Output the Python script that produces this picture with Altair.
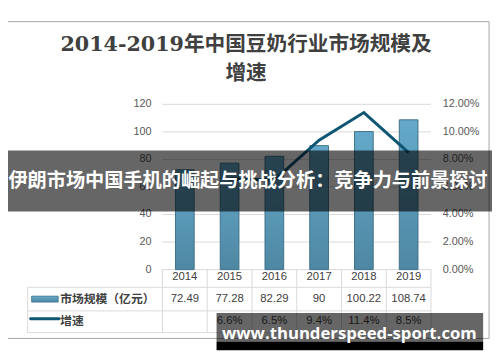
import altair as alt
import pandas as pd

# ---------------- data ----------------
years = ["2014", "2015", "2016", "2017", "2018", "2019"]
market = [72.49, 77.28, 82.29, 90, 100.22, 108.74]
market_labels = ["72.49", "77.28", "82.29", "90", "100.22", "108.74"]
growth = [None, 0.066, 0.065, 0.094, 0.114, 0.085]
growth_labels = ["", "6.6%", "6.5%", "9.4%", "11.4%", "8.5%"]
left_ticks = [0, 20, 40, 60, 80, 100, 120]
right_ticks = [0.0, 0.02, 0.04, 0.06, 0.08, 0.10, 0.12]
right_tick_labels = ["0.00%", "2.00%", "4.00%", "6.00%", "8.00%", "10.00%", "12.00%"]

title_1 = "2014-2019年中国豆奶行业市场规模及"
title_2 = "增速"
row1_name = "市场规模（亿元）"
row2_name = "增速"
overlay_text = "伊朗市场中国手机的崛起与挑战分析：竞争力与前景探讨"
watermark = "www.thunderspeed-sport.com"

df = pd.DataFrame({"year": years, "market": market, "mlabel": market_labels,
                   "growth": growth, "glabel": growth_labels})
df_line = df.dropna(subset=["growth"])
df_lt = pd.DataFrame({"tick": left_ticks, "label": [str(t) for t in left_ticks]})
df_rt = pd.DataFrame({"tick": right_ticks, "label": right_tick_labels})
one = alt.Data(values=[{"a": 1}])

# ---------------- layout / style ----------------
W, H = 492, 354
X_RANGE = [157, 430]
Y_RANGE = [263, 95]
CJK = "Noto Sans CJK SC"
NUM = "Liberation Sans"
TITLE_FONT = f"DejaVu Serif, {CJK}"
BAR_STROKE = "#3f7189"
LINE_COLOR = "#0e5673"
GRID = "#d9d9d9"
bar_grad = alt.LinearGradient(
    gradient="linear", x1=0, x2=0, y1=0, y2=1,
    stops=[alt.GradientStop(color="#64a9ca", offset=0),
           alt.GradientStop(color="#4e87a2", offset=1)])

X = alt.X("year:O", scale=alt.Scale(type="point", domain=years, range=X_RANGE, padding=0.5), axis=None)
YL = alt.Y("market:Q", scale=alt.Scale(domain=[0, 120], range=Y_RANGE), axis=None)
YR = alt.Y("growth:Q", scale=alt.Scale(domain=[0, 0.12], range=Y_RANGE), axis=None)

layers = []

# outer frame
layers.append(alt.Chart(one).mark_rect(fill=None, stroke="#a6a6a6", strokeWidth=1).encode(
    x=alt.value(-5), x2=alt.value(489), y=alt.value(11), y2=alt.value(333)))

# title
layers.append(alt.Chart(one).mark_text(text=title_1, font=TITLE_FONT, fontSize=21,
                                        fontWeight="bold", color="#404040", baseline="middle",
                                        align="center").encode(x=alt.value(242), y=alt.value(35)))
layers.append(alt.Chart(one).mark_text(text=title_2, font=TITLE_FONT, fontSize=21,
                                        fontWeight="bold", color="#404040", baseline="middle",
                                        align="center").encode(x=alt.value(242), y=alt.value(64)))

# gridlines
layers.append(alt.Chart(df_lt).mark_rule(color=GRID, strokeWidth=1).encode(
    x=alt.value(X_RANGE[0]), x2=alt.value(X_RANGE[1]),
    y=alt.Y("tick:Q", scale=alt.Scale(domain=[0, 120], range=Y_RANGE), axis=None)))

# axis labels
layers.append(alt.Chart(df_lt).mark_text(font=NUM, fontSize=11, color="#595959", align="right",
                                         baseline="middle").encode(
    x=alt.value(146),
    y=alt.Y("tick:Q", scale=alt.Scale(domain=[0, 120], range=Y_RANGE), axis=None),
    text="label:N"))
layers.append(alt.Chart(df_rt).mark_text(font=NUM, fontSize=11, color="#595959", align="left",
                                         baseline="middle").encode(
    x=alt.value(442),
    y=alt.Y("tick:Q", scale=alt.Scale(domain=[0, 0.12], range=Y_RANGE), axis=None),
    text="label:N"))

# bars
layers.append(alt.Chart(df).mark_bar(size=19, color=bar_grad, stroke=BAR_STROKE, strokeWidth=1).encode(
    x=X, y=YL))

# line
layers.append(alt.Chart(df_line).mark_line(color=LINE_COLOR, strokeWidth=3).encode(x=X, y=YR))

# table lines
for (x1, x2, y) in [(20, 430, 281), (20, 430, 305), (20, 430, 327)]:
    layers.append(alt.Chart(one).mark_rule(color=GRID, strokeWidth=1).encode(
        x=alt.value(x1), x2=alt.value(x2), y=alt.value(y)))
layers.append(alt.Chart(one).mark_rule(color=GRID, strokeWidth=1).encode(
    x=alt.value(20), y=alt.value(281), y2=alt.value(327)))
layers.append(alt.Chart(df).mark_rule(color=GRID, strokeWidth=1, xOffset=-22.75).encode(
    x=X, y=alt.value(263), y2=alt.value(327)))
layers.append(alt.Chart(one).mark_rule(color=GRID, strokeWidth=1).encode(
    x=alt.value(430), y=alt.value(263), y2=alt.value(327)))

# table text
layers.append(alt.Chart(df).mark_text(font=NUM, fontSize=11.5, color="#404040", baseline="middle").encode(
    x=X, y=alt.value(271), text="year:N"))
layers.append(alt.Chart(df).mark_text(font=NUM, fontSize=11.5, color="#404040", baseline="middle").encode(
    x=X, y=alt.value(293), text="mlabel:N"))
layers.append(alt.Chart(df).mark_text(font=NUM, fontSize=11.5, color="#404040", baseline="middle").encode(
    x=X, y=alt.value(315), text="glabel:N"))

# legend symbols + row names
layers.append(alt.Chart(one).mark_rect(color=bar_grad, stroke=BAR_STROKE, strokeWidth=0.8).encode(
    x=alt.value(24), x2=alt.value(51), y=alt.value(290), y2=alt.value(296)))
layers.append(alt.Chart(one).mark_rule(color=LINE_COLOR, strokeWidth=3, strokeCap="round").encode(
    x=alt.value(23), x2=alt.value(52), y=alt.value(313)))
layers.append(alt.Chart(one).mark_text(text=row1_name, font=CJK, fontSize=12, fontWeight="bold",
                                        color="#404040", align="left", baseline="middle").encode(
    x=alt.value(53), y=alt.value(293)))
layers.append(alt.Chart(one).mark_text(text=row2_name, font=CJK, fontSize=12, fontWeight="bold",
                                        color="#404040", align="left", baseline="middle").encode(
    x=alt.value(53), y=alt.value(315)))

# overlay band
layers.append(alt.Chart(one).mark_rect(color="#000000", opacity=0.6).encode(
    x=alt.value(0), x2=alt.value(W), y=alt.value(142), y2=alt.value(204)))
layers.append(alt.Chart(one).mark_text(text=overlay_text, font=CJK, fontSize=19.5, fontWeight="bold",
                                        color="#ffffff", align="center", baseline="middle").encode(
    x=alt.value(244), y=alt.value(173)))

# watermark
layers.append(alt.Chart(one).mark_rect(color="#000000", opacity=0.6).encode(
    x=alt.value(212), x2=alt.value(483), y=alt.value(307), y2=alt.value(336)))
layers.append(alt.Chart(one).mark_rect(color="#000000").encode(
    x=alt.value(212), x2=alt.value(483), y=alt.value(336), y2=alt.value(345)))
layers.append(alt.Chart(one).mark_text(text=watermark, font="Open Sans", fontSize=17, fontWeight="bold",
                                        color="#ffffff", align="center", baseline="alphabetic").encode(
    x=alt.value(347), y=alt.value(334)))

chart = alt.layer(*layers).resolve_scale(y="independent").properties(
    width=W, height=H, padding=0, autosize=alt.AutoSizeParams(type="none")
).configure_view(strokeWidth=0)

chart.save("out.html", embed_options={"renderer": "svg", "actions": False})
